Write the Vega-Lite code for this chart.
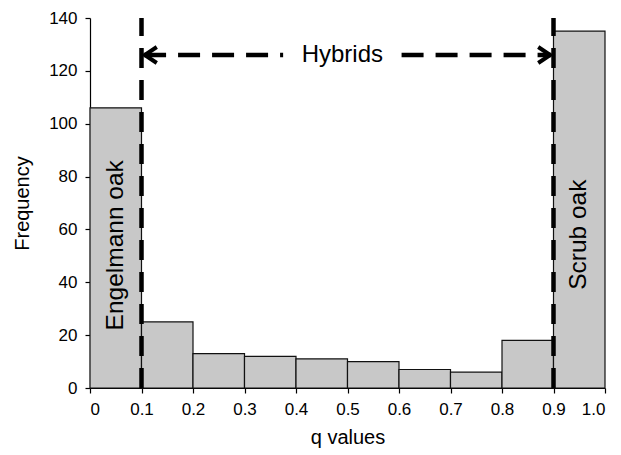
{
  "$schema": "https://vega.github.io/schema/vega-lite/v6.json",
  "width": 515,
  "height": 370,
  "autosize": "none",
  "padding": {"left": 90, "top": 18, "right": 16, "bottom": 67},
  "config": {
    "view": {"stroke": null},
    "font": "Liberation Sans",
    "axis": {
      "grid": false,
      "domainColor": "#000",
      "tickColor": "#000",
      "labelColor": "#000",
      "titleColor": "#000",
      "labelFont": "Liberation Sans",
      "titleFont": "Liberation Sans",
      "labelFontSize": 17,
      "titleFontSize": 20,
      "titleFontWeight": "normal",
      "tickSize": 5,
      "domainWidth": 1.2,
      "tickWidth": 1.2
    }
  },
  "datasets": {
    "bins": [
      {"bin_start": 0.0, "bin_end": 0.1, "count": 106},
      {"bin_start": 0.1, "bin_end": 0.2, "count": 25},
      {"bin_start": 0.2, "bin_end": 0.3, "count": 13},
      {"bin_start": 0.3, "bin_end": 0.4, "count": 12},
      {"bin_start": 0.4, "bin_end": 0.5, "count": 11},
      {"bin_start": 0.5, "bin_end": 0.6, "count": 10},
      {"bin_start": 0.6, "bin_end": 0.7, "count": 7},
      {"bin_start": 0.7, "bin_end": 0.8, "count": 6},
      {"bin_start": 0.8, "bin_end": 0.9, "count": 18},
      {"bin_start": 0.9, "bin_end": 1.0, "count": 135}
    ],
    "cutoffs": [{"q": 0.1}, {"q": 0.9}],
    "arrow": [
      {"from": 0.105, "to": 0.375, "level": 126},
      {"from": 0.605, "to": 0.895, "level": 126}
    ],
    "heads": [
      {"q": 0.118, "level": 126, "side": "left"},
      {"q": 0.882, "level": 126, "side": "right"}
    ],
    "labels": [
      {"q": 0.05, "level": 54, "label": "Engelmann oak"},
      {"q": 0.95, "level": 58, "label": "Scrub oak"}
    ],
    "hybrid": [{"q": 0.49, "level": 126, "label": "Hybrids"}]
  },
  "layer": [
    {
      "data": {"name": "bins"},
      "mark": {"type": "bar", "fill": "#c8c8c8", "stroke": "#111", "strokeWidth": 1.2},
      "encoding": {
        "x": {
          "field": "bin_start",
          "type": "quantitative",
          "scale": {"domain": [0, 1], "nice": false, "zero": false},
          "axis": {
            "values": [0, 0.1, 0.2, 0.3, 0.4, 0.5, 0.6, 0.7, 0.8, 0.9, 1.0],
            "labelExpr": "datum.value == 0 ? '0' : format(datum.value, '.1f')",
            "labelPadding": 8,
            "title": "q values",
            "titlePadding": 10
          }
        },
        "x2": {"field": "bin_end"},
        "y": {
          "field": "count",
          "type": "quantitative",
          "scale": {"domain": [0, 140], "nice": false},
          "axis": {
            "values": [0, 20, 40, 60, 80, 100, 120, 140],
            "labelPadding": 8,
            "title": "Frequency",
            "titlePadding": 16
          }
        },
        "y2": {"datum": 0}
      }
    },
    {
      "data": {"name": "cutoffs"},
      "mark": {"type": "rule", "stroke": "#000", "strokeWidth": 4.5, "strokeDash": [20, 12]},
      "encoding": {
        "x": {"field": "q", "type": "quantitative"},
        "y": {"datum": 0},
        "y2": {"datum": 140}
      }
    },
    {
      "data": {"name": "arrow"},
      "mark": {"type": "rule", "stroke": "#000", "strokeWidth": 4.5, "strokeDash": [22, 12]},
      "encoding": {
        "x": {"field": "from", "type": "quantitative"},
        "x2": {"field": "to"},
        "y": {"field": "level", "type": "quantitative"}
      }
    },
    {
      "data": {"name": "heads"},
      "mark": {"type": "point", "filled": false, "stroke": "#000", "strokeWidth": 4, "size": 256, "opacity": 1, "strokeJoin": "miter"},
      "encoding": {
        "x": {"field": "q", "type": "quantitative"},
        "y": {"field": "level", "type": "quantitative"},
        "shape": {
          "field": "side",
          "type": "nominal",
          "scale": {"domain": ["left", "right"], "range": ["M0.75,-1L-0.75,0L0.75,1", "M-0.75,-1L0.75,0L-0.75,1"]},
          "legend": null
        }
      }
    },
    {
      "data": {"name": "hybrid"},
      "mark": {"type": "text", "fontSize": 24, "font": "Liberation Sans", "color": "#000", "align": "center", "baseline": "middle"},
      "encoding": {
        "x": {"field": "q", "type": "quantitative"},
        "y": {"field": "level", "type": "quantitative"},
        "text": {"field": "label"}
      }
    },
    {
      "data": {"name": "labels"},
      "mark": {"type": "text", "fontSize": 24.5, "font": "Liberation Sans", "color": "#000", "angle": 270, "align": "center", "baseline": "middle"},
      "encoding": {
        "x": {"field": "q", "type": "quantitative"},
        "y": {"field": "level", "type": "quantitative"},
        "text": {"field": "label"}
      }
    }
  ]
}
